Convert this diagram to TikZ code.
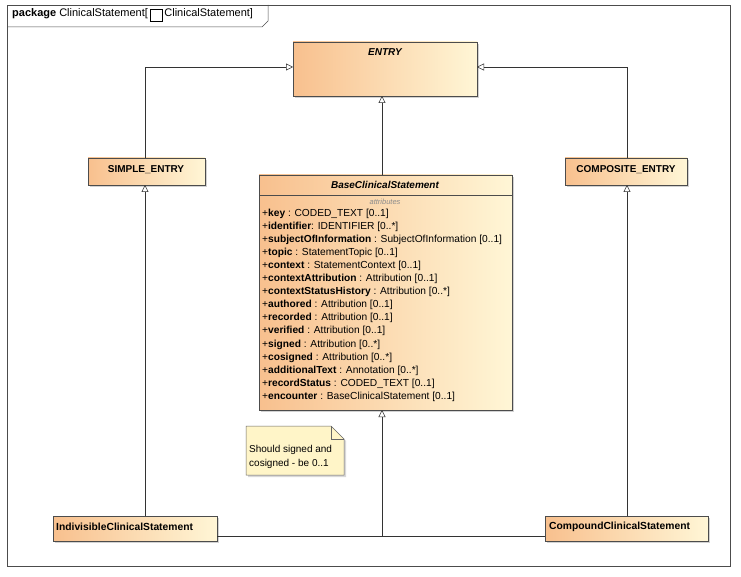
\documentclass[tikz,border=0pt]{standalone}
\usepackage{fontspec}
\setmainfont{Liberation Sans}
\usetikzlibrary{arrows.meta,shadows}
\definecolor{lo}{HTML}{F8C08E}
\definecolor{ly}{HTML}{FFF6D6}
\definecolor{nt}{HTML}{FFF5C8}
\tikzset{
  cls/.style={draw=black!70,line width=0.5pt,left color=lo,right color=ly,drop shadow={shadow xshift=2pt,shadow yshift=-2pt,fill=black!35}},
  gen/.style={draw=black!80,line width=0.5pt,-{Triangle[open,length=7pt,width=7pt]}},
  lnk/.style={draw=black!80,line width=0.5pt},
  t/.style={font=\fontsize{10.5}{12}\selectfont,inner sep=0pt},
}
\begin{document}
\begin{tikzpicture}[x=1pt,y=-1pt]
\useasboundingbox (0,0) rectangle (741,577);
% frame
\draw[black!70,line width=0.5pt] (7,5) rectangle (730,566);
\draw[black!70,line width=0.5pt] (7,27) -- (262,27) -- (268,21) -- (268,5);
\node[t,anchor=west,font=\fontsize{11}{12}\selectfont] (hdr) at (12,15) {\textbf{package} ClinicalStatement[\,\raisebox{-1.5pt}{\fbox{\rule{0pt}{6pt}\hspace{6pt}}}\,ClinicalStatement]};
% ENTRY
\path[cls] (293,42) rectangle (477,96);
\node[t,font=\fontsize{10}{11}\selectfont\bfseries\itshape] (entry) at (385,52) {ENTRY};
\coordinate (eL) at (293,67); \coordinate (eR) at (477,67); \coordinate (eB) at (382,96);
% SIMPLE
\path[cls] (88,158) rectangle (205,185);
\node[t,font=\fontsize{10}{11}\selectfont\bfseries] (simple) at (146,170) {SIMPLE\_ENTRY};
% COMPOSITE
\path[cls] (565,158) rectangle (687,185);
\node[t,font=\fontsize{10}{11}\selectfont\bfseries] (comp) at (626,170) {COMPOSITE\_ENTRY};
% Base
\path[cls] (259,175) rectangle (512,410);
\draw[black!70,line width=0.5pt] (259,195) -- (512,195);
\node[t,font=\fontsize{10}{11}\selectfont\bfseries\itshape] (base) at (385,185) {BaseClinicalStatement};
\node[t,font=\fontsize{7.5}{8}\selectfont\itshape,text=black!45] (attr) at (385,202) {attributes};
\node[t,anchor=north west,align=left,font=\fontsize{10.2}{13.1}\selectfont] (attrs) at (262,208.5) {%
+\textbf{key} : CODED\_TEXT [0..1]\\
+\textbf{identifier}: IDENTIFIER [0..*]\\
+\textbf{subjectOfInformation} : SubjectOfInformation [0..1]\\
+\textbf{topic} : StatementTopic [0..1]\\
+\textbf{context} : StatementContext [0..1]\\
+\textbf{contextAttribution} : Attribution [0..1]\\
+\textbf{contextStatusHistory} : Attribution [0..*]\\
+\textbf{authored} : Attribution [0..1]\\
+\textbf{recorded} : Attribution [0..1]\\
+\textbf{verified} : Attribution [0..1]\\
+\textbf{signed} : Attribution [0..*]\\
+\textbf{cosigned} : Attribution [0..*]\\
+\textbf{additionalText} : Annotation [0..*]\\
+\textbf{recordStatus} : CODED\_TEXT [0..1]\\
+\textbf{encounter} : BaseClinicalStatement [0..1]};
% note
\path[fill=nt,draw=black!60,line width=0.5pt,drop shadow={shadow xshift=2pt,shadow yshift=-2pt,fill=black!30}] (246,426) -- (331,426) -- (344,439) -- (344,475) -- (246,475) -- cycle;
\draw[black!60,line width=0.5pt] (331,426) -- (331,439) -- (344,439);
\node[t,anchor=north west,align=left,font=\fontsize{10}{14}\selectfont] (note) at (249,445) {Should signed and\\cosigned - be 0..1};
% leaves
\path[cls] (53,516) rectangle (217,541);
\node[t,font=\fontsize{10.3}{11}\selectfont\bfseries,anchor=west] (ind) at (56,527) {IndivisibleClinicalStatement};
\path[cls] (545,516) rectangle (708,541);
\node[t,font=\fontsize{10.3}{11}\selectfont\bfseries,anchor=west] (cmp) at (549,527) {CompoundClinicalStatement};
% connectors
\draw[gen] (145,158) -- (145,67) -- (eL);
\draw[gen] (627,158) -- (627,67) -- (eR);
\draw[gen] (382,175) -- (eB);
\draw[gen] (145,516) -- (145,185);
\draw[gen] (627,516) -- (627,185);
\draw[gen] (382,536) -- (382,410);
\draw[lnk] (217,536) -- (545,536);
\end{tikzpicture}
\end{document}
